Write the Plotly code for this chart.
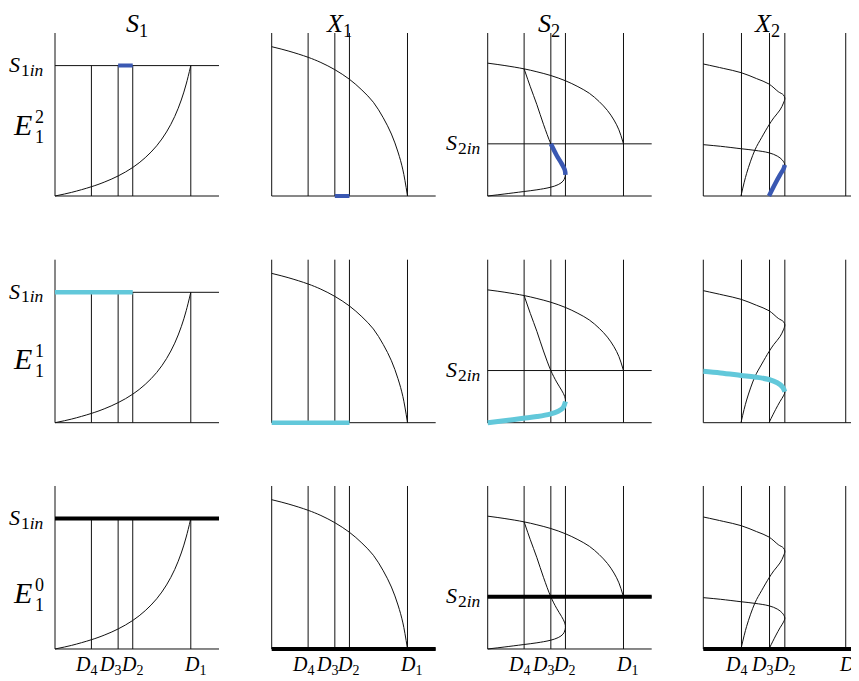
import plotly.graph_objects as go

# ------------------------------------------------------------------ data
col_titles = ["S", "X", "S", "X"]
col_title_subs = ["1", "1", "2", "2"]
row_sups = ["2", "1", "0"]
D_subs = ["4", "3", "2", "1"]
D_values = [0.222, 0.385, 0.474, 0.828]
S1_in = 0.80
S2_in = 0.32
x_end = 1.0
y_top = 1.0

s1_x = [0.0, 0.1, 0.222, 0.3, 0.385, 0.474, 0.55, 0.62, 0.68, 0.73, 0.77, 0.80, 0.828]
s1_y = [0.0, 0.022, 0.057, 0.085, 0.123, 0.175, 0.235, 0.308, 0.393, 0.488, 0.589, 0.687, 0.80]

x1_x = [0.0, 0.1, 0.222, 0.3, 0.385, 0.474, 0.55, 0.62, 0.68, 0.73, 0.77, 0.80, 0.828]
x1_y = [0.916, 0.890, 0.851, 0.819, 0.775, 0.716, 0.650, 0.575, 0.48, 0.38, 0.27, 0.16, 0.0]

s2u_x = [0.0, 0.1, 0.222, 0.3, 0.385, 0.474, 0.55, 0.62, 0.68, 0.73, 0.77, 0.80, 0.828]
s2u_y = [0.815, 0.801, 0.780, 0.762, 0.739, 0.707, 0.671, 0.630, 0.579, 0.525, 0.466, 0.406, 0.32]

# lower branch (0 -> fold at D2) then middle branch (fold -> D4 on upper curve)
s2f_x = [0.0, 0.1, 0.217, 0.3, 0.38, 0.43, 0.46, 0.474, 0.47, 0.45, 0.42, 0.385, 0.34, 0.30, 0.26, 0.222]
s2f_y = [0.0, 0.012, 0.027, 0.038, 0.053, 0.07, 0.092, 0.13, 0.16, 0.20, 0.25, 0.32, 0.44, 0.56, 0.67, 0.78]
s2_fold_i = 7
s2_d3_i = 11

x2a_x = [0.0, 0.116, 0.219, 0.31, 0.382, 0.436, 0.466, 0.474, 0.466, 0.446, 0.41, 0.382, 0.34, 0.30, 0.252, 0.219]
x2a_y = [0.81, 0.783, 0.757, 0.72, 0.687, 0.64, 0.62, 0.60, 0.57, 0.528, 0.48, 0.436, 0.36, 0.282, 0.139, 0.0]

x2b_x = [0.0, 0.1, 0.219, 0.30, 0.382, 0.43, 0.46, 0.474, 0.466, 0.446, 0.42, 0.382]
x2b_y = [0.315, 0.305, 0.29, 0.28, 0.265, 0.245, 0.22, 0.19, 0.165, 0.13, 0.08, 0.0]
x2_fold_i = 7

# ------------------------------------------------------------------ style / layout
OFF = 8                      # page body margin of the html page
W, H = 859 - OFF, 681 - OFF
INK = "#111111"
BLUE = "#3a58b2"
CYAN = "#62c8da"
FONT = "Liberation Serif"

# geometry in window pixels (converted to figure pixels below)
col_left = [55, 271.7, 487.7, 703.3]
col_unit = [164, 164, 164, 172]
row_base = [196, 422.7, 649]
unit_h = 163
xr0, yr0, yr1 = -0.05, -0.05, 1.03

fig = go.Figure()
layout = dict(width=W, height=H, margin=dict(l=0, r=0, t=0, b=0),
              paper_bgcolor="white", plot_bgcolor="white", showlegend=False)


def axname(k):
    return "" if k == 0 else str(k + 1)


def fx(px):
    return (px - OFF) / W


def fy(py):
    return 1 - (py - OFF) / H


for r in range(3):
    for c in range(4):
        k = r * 4 + c
        L, u = col_left[c], col_unit[c]
        xr1 = 1.02 if c < 3 else (859 - L) / u
        dx = [max(0.0, fx(L + xr0 * u)), min(1.0, fx(L + xr1 * u))]
        B = row_base[r]
        dy = [max(0.0, fy(B - yr0 * unit_h)), min(1.0, fy(B - yr1 * unit_h))]
        ax = dict(visible=False, showgrid=False, zeroline=False, fixedrange=True)
        layout["xaxis" + axname(k)] = dict(ax, domain=dx, range=[xr0, xr1],
                                           anchor="y" + axname(k))
        layout["yaxis" + axname(k)] = dict(ax, domain=dy, range=[yr0, yr1],
                                           anchor="x" + axname(k))


def line(k, x, y, width=1, color=INK, spline=False):
    fig.add_trace(go.Scatter(
        x=x, y=y, mode="lines",
        line=dict(color=color, width=width, shape="spline" if spline else "linear", smoothing=1.0),
        xaxis="x" + axname(k), yaxis="y" + axname(k), hoverinfo="skip", showlegend=False))


def verticals(k, top):
    xs, ys = [], []
    for d in D_values:
        xs += [d, d, None]
        ys += [0, top, None]
    line(k, xs, ys)


for r in range(3):
    kS1, kX1, kS2, kX2 = r * 4, r * 4 + 1, r * 4 + 2, r * 4 + 3
    for k in (kS1, kX1, kS2, kX2):
        line(k, [0, 0], [0, y_top])
        line(k, [0, x_end], [0, 0])
    # S1
    line(kS1, [0, x_end], [S1_in, S1_in])
    verticals(kS1, S1_in)
    line(kS1, s1_x, s1_y, spline=True)
    # X1
    verticals(kX1, y_top)
    line(kX1, x1_x, x1_y, spline=True)
    # S2
    line(kS2, [0, x_end], [S2_in, S2_in])
    verticals(kS2, y_top)
    line(kS2, s2u_x, s2u_y, spline=True)
    line(kS2, s2f_x, s2f_y, spline=True)
    # X2
    verticals(kX2, y_top)
    line(kX2, x2a_x, x2a_y, spline=True)
    line(kX2, x2b_x, x2b_y, spline=True)

# highlighted equilibrium branches
d4, d3, d2, d1 = D_values
# E1^2 (row 0): blue
line(0, [d3, d2], [S1_in, S1_in], width=4, color=BLUE)
line(1, [d3, d2], [0, 0], width=4, color=BLUE)
line(2, s2f_x[s2_fold_i:s2_d3_i + 1], s2f_y[s2_fold_i:s2_d3_i + 1], width=4.5, color=BLUE, spline=True)
line(3, x2b_x[x2_fold_i:], x2b_y[x2_fold_i:], width=4.5, color=BLUE, spline=True)
# E1^1 (row 1): cyan
line(4, [0, d2], [S1_in, S1_in], width=4.5, color=CYAN)
line(5, [0, d2], [0, 0], width=4.5, color=CYAN)
line(6, s2f_x[:s2_fold_i + 1], s2f_y[:s2_fold_i + 1], width=5, color=CYAN, spline=True)
line(7, x2b_x[:x2_fold_i + 1], x2b_y[:x2_fold_i + 1], width=5, color=CYAN, spline=True)
# E1^0 (row 2): thick black
line(8, [0, x_end], [S1_in, S1_in], width=4, color="black")
line(9, [0, x_end], [0, 0], width=4, color="black")
line(10, [0, x_end], [S2_in, S2_in], width=4, color="black")
line(11, [0, x_end], [0, 0], width=4, color="black")

# ------------------------------------------------------------------ text
ann = []


def text(px, py, s, size, xanchor="center", yanchor="middle", yshift=0, borderpad=1):
    ann.append(dict(x=fx(px), y=fy(py), xref="paper", yref="paper", text=s,
                    showarrow=False, xanchor=xanchor, yanchor=yanchor, yshift=yshift,
                    borderpad=borderpad,
                    font=dict(family=FONT, size=size, color="black")))


title_px = [137, 339, 549, 767]
for c in range(4):
    text(title_px[c], OFF, "<i>%s</i><sub>%s</sub>" % (col_titles[c], col_title_subs[c]), 26,
         yanchor="top", borderpad=0)

row_label_y = [124, 358, 592]
for r in range(3):
    yy = row_label_y[r]
    text(34, yy, "<i>E</i>", 30, xanchor="right")
    text(33, yy - 7, row_sups[r], 18, xanchor="left")
    text(33, yy + 13, "1", 18, xanchor="left")
    B = row_base[r]
    yS1 = B - S1_in * unit_h
    text(22, yS1 - 1, "<i>S</i>", 22, xanchor="right")
    text(19, yS1 + 4, "1<i>in</i>", 17.5, xanchor="left")
    yS2 = B - S2_in * unit_h
    text(459, yS2 - 1, "<i>S</i>", 22, xanchor="right")
    text(456, yS2 + 4, "2<i>in</i>", 17.5, xanchor="left")

D_shift = [-5, -8, -1, 4]
for c in range(4):
    for i, d in enumerate(D_values):
        px = col_left[c] + d * col_unit[c] + D_shift[i]
        text(px, 665, "<i>D</i><sub>%s</sub>" % D_subs[i], 20)

layout["annotations"] = ann
fig.update_layout(**layout)
fig.write_html("out.html")
